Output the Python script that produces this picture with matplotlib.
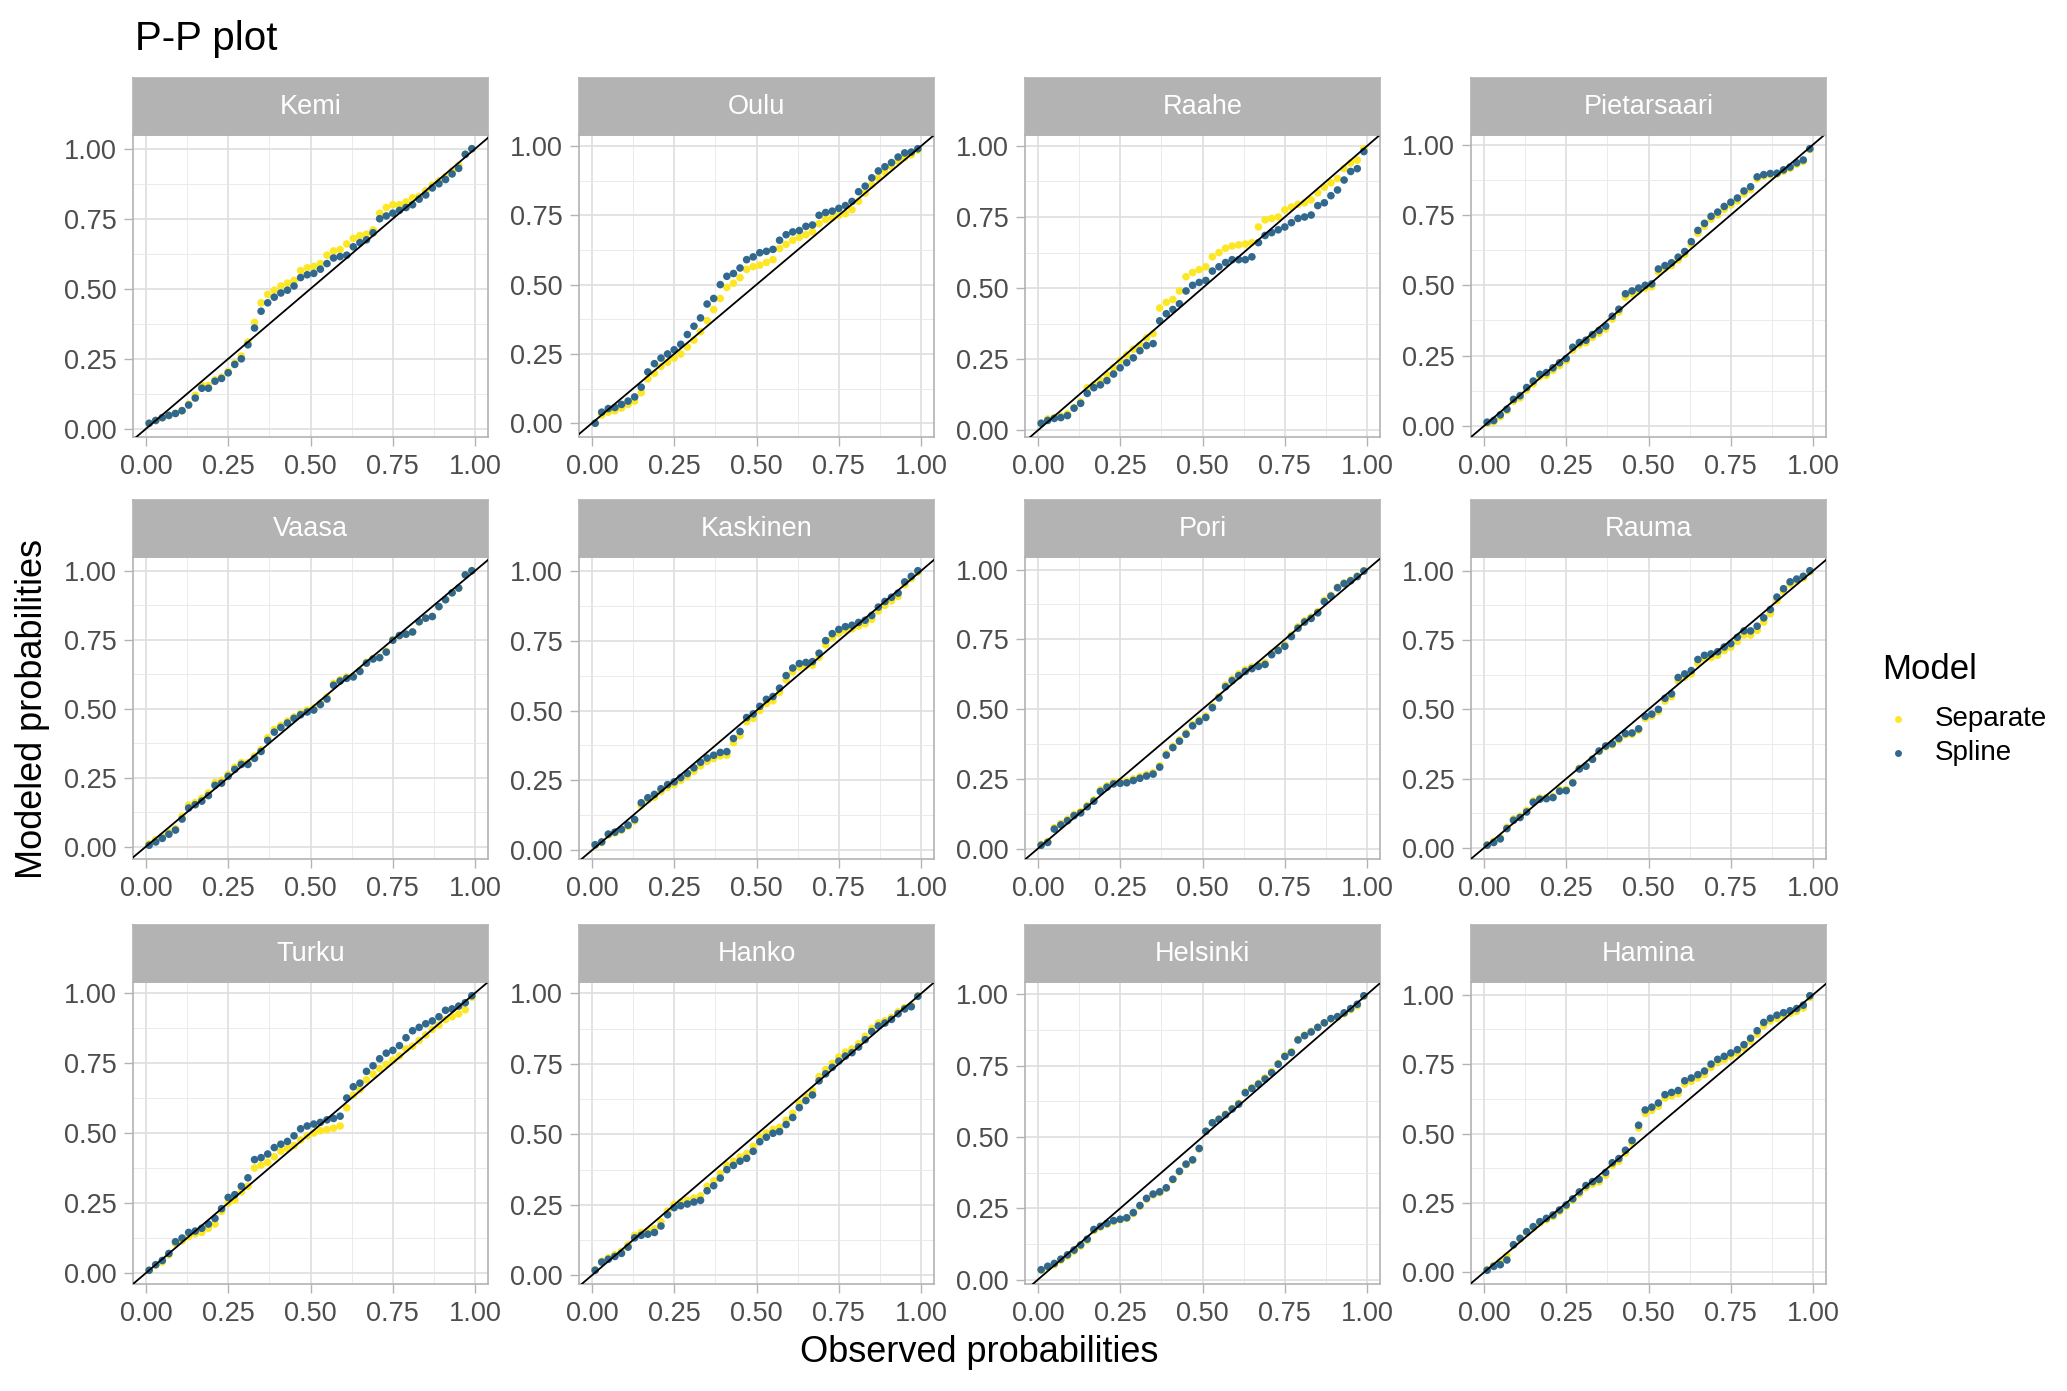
import matplotlib.pyplot as plt
from matplotlib.lines import Line2D
import numpy as np

plt.rcParams['font.family'] = ['Liberation Sans', 'DejaVu Sans']

stations = ['Kemi', 'Oulu', 'Raahe', 'Pietarsaari',
            'Vaasa', 'Kaskinen', 'Pori', 'Rauma',
            'Turku', 'Hanko', 'Helsinki', 'Hamina']

obs_prob = [0.01, 0.03, 0.05, 0.07, 0.09, 0.11, 0.13, 0.15, 0.17, 0.19,
            0.21, 0.23, 0.25, 0.27, 0.29, 0.31, 0.33, 0.35, 0.37, 0.39,
            0.41, 0.43, 0.45, 0.47, 0.49, 0.51, 0.53, 0.55, 0.57, 0.59,
            0.61, 0.63, 0.65, 0.67, 0.69, 0.71, 0.73, 0.75, 0.77, 0.79,
            0.81, 0.83, 0.85, 0.87, 0.89, 0.91, 0.93, 0.95, 0.97, 0.99]

# modeled probabilities, Separate / Spline
kemi_sep = [0.02, 0.03, 0.04, 0.048, 0.055, 0.065, 0.088, 0.12, 0.155, 0.155,
            0.175, 0.185, 0.205, 0.235, 0.26, 0.31, 0.38, 0.45, 0.48, 0.495,
            0.51, 0.52, 0.53, 0.565, 0.575, 0.58, 0.59, 0.62, 0.635, 0.64,
            0.66, 0.68, 0.69, 0.695, 0.71, 0.77, 0.79, 0.80, 0.80, 0.81,
            0.825, 0.83, 0.85, 0.87, 0.885, 0.90, 0.92, 0.94, 0.98, 1.0]
kemi_spl = [0.02, 0.03, 0.04, 0.048, 0.055, 0.065, 0.085, 0.11, 0.145, 0.145,
            0.17, 0.18, 0.2, 0.23, 0.25, 0.30, 0.36, 0.42, 0.45, 0.47,
            0.485, 0.495, 0.51, 0.54, 0.55, 0.555, 0.57, 0.59, 0.61, 0.615,
            0.62, 0.65, 0.665, 0.675, 0.70, 0.75, 0.76, 0.77, 0.78, 0.79,
            0.80, 0.82, 0.835, 0.86, 0.875, 0.89, 0.91, 0.93, 0.98, 1.0]

oulu_sep = [0.0, 0.03, 0.04, 0.045, 0.055, 0.068, 0.08, 0.11, 0.16, 0.18,
            0.205, 0.22, 0.235, 0.25, 0.275, 0.30, 0.33, 0.37, 0.41, 0.45,
            0.49, 0.505, 0.525, 0.555, 0.565, 0.57, 0.58, 0.59, 0.63, 0.645,
            0.66, 0.67, 0.68, 0.69, 0.72, 0.735, 0.74, 0.75, 0.756, 0.77,
            0.80, 0.83, 0.86, 0.885, 0.905, 0.925, 0.945, 0.958, 0.968, 0.985]
oulu_spl = [0.0, 0.04, 0.053, 0.057, 0.068, 0.08, 0.095, 0.13, 0.185, 0.215,
            0.235, 0.25, 0.265, 0.285, 0.32, 0.35, 0.38, 0.43, 0.45, 0.50,
            0.53, 0.54, 0.56, 0.59, 0.60, 0.615, 0.62, 0.627, 0.66, 0.68,
            0.69, 0.695, 0.71, 0.715, 0.75, 0.76, 0.765, 0.775, 0.785, 0.80,
            0.835, 0.855, 0.885, 0.91, 0.925, 0.94, 0.96, 0.975, 0.978, 0.99]

raahe_sep = [0.025, 0.04, 0.045, 0.05, 0.058, 0.08, 0.10, 0.15, 0.16, 0.175,
             0.195, 0.22, 0.245, 0.265, 0.285, 0.30, 0.325, 0.34, 0.43, 0.45,
             0.46, 0.49, 0.54, 0.555, 0.565, 0.575, 0.61, 0.625, 0.64, 0.648,
             0.652, 0.655, 0.66, 0.715, 0.74, 0.745, 0.75, 0.775, 0.785, 0.795,
             0.80, 0.81, 0.835, 0.855, 0.87, 0.885, 0.92, 0.94, 0.95, 0.99]
raahe_spl = [0.025, 0.035, 0.042, 0.045, 0.052, 0.078, 0.095, 0.13, 0.15, 0.16,
             0.175, 0.198, 0.22, 0.238, 0.255, 0.28, 0.298, 0.305, 0.385, 0.41,
             0.425, 0.445, 0.49, 0.51, 0.52, 0.527, 0.56, 0.575, 0.59, 0.60,
             0.60, 0.60, 0.61, 0.66, 0.685, 0.695, 0.705, 0.715, 0.73, 0.745,
             0.75, 0.757, 0.79, 0.80, 0.825, 0.845, 0.88, 0.91, 0.92, 0.98]

pietarsaari_sep = [0.01, 0.015, 0.033, 0.055, 0.088, 0.1, 0.128, 0.15, 0.175, 0.18,
                   0.198, 0.215, 0.232, 0.27, 0.288, 0.296, 0.315, 0.33, 0.345, 0.38,
                   0.405, 0.458, 0.47, 0.48, 0.49, 0.495, 0.548, 0.56, 0.57, 0.59,
                   0.61, 0.645, 0.685, 0.71, 0.735, 0.75, 0.77, 0.785, 0.80, 0.825,
                   0.84, 0.878, 0.888, 0.893, 0.895, 0.905, 0.915, 0.93, 0.94, 0.982]
pietarsaari_spl = [0.014, 0.02, 0.04, 0.06, 0.095, 0.108, 0.137, 0.16, 0.184, 0.19,
                   0.207, 0.225, 0.24, 0.28, 0.297, 0.305, 0.325, 0.34, 0.355, 0.39,
                   0.415, 0.47, 0.48, 0.49, 0.50, 0.505, 0.558, 0.57, 0.58, 0.60,
                   0.62, 0.655, 0.695, 0.72, 0.745, 0.76, 0.78, 0.795, 0.81, 0.835,
                   0.85, 0.885, 0.893, 0.897, 0.898, 0.91, 0.92, 0.935, 0.945, 0.985]

vaasa_sep = [0.01, 0.025, 0.038, 0.052, 0.065, 0.11, 0.15, 0.16, 0.175, 0.195,
             0.232, 0.24, 0.262, 0.288, 0.305, 0.305, 0.328, 0.352, 0.395, 0.425,
             0.44, 0.455, 0.47, 0.483, 0.495, 0.502, 0.52, 0.542, 0.592, 0.605,
             0.615, 0.618, 0.638, 0.668, 0.682, 0.686, 0.708, 0.75, 0.765, 0.77,
             0.778, 0.815, 0.828, 0.834, 0.87, 0.895, 0.92, 0.937, 0.985, 1.0]
vaasa_spl = [0.005, 0.017, 0.03, 0.045, 0.06, 0.10, 0.14, 0.152, 0.165, 0.185,
             0.222, 0.23, 0.255, 0.28, 0.298, 0.298, 0.32, 0.345, 0.385, 0.415,
             0.432, 0.448, 0.465, 0.478, 0.488, 0.495, 0.515, 0.535, 0.585, 0.60,
             0.61, 0.615, 0.635, 0.665, 0.68, 0.685, 0.705, 0.748, 0.765, 0.77,
             0.778, 0.815, 0.828, 0.834, 0.87, 0.895, 0.92, 0.937, 0.985, 1.0]

kaskinen_sep = [0.018, 0.028, 0.055, 0.062, 0.072, 0.086, 0.105, 0.16, 0.18, 0.19,
                0.21, 0.225, 0.235, 0.25, 0.265, 0.283, 0.302, 0.318, 0.328, 0.338,
                0.34, 0.385, 0.41, 0.46, 0.472, 0.5, 0.525, 0.535, 0.565, 0.61,
                0.638, 0.655, 0.66, 0.662, 0.69, 0.735, 0.76, 0.776, 0.786, 0.792,
                0.802, 0.81, 0.826, 0.856, 0.876, 0.892, 0.908, 0.95, 0.972, 0.995]
kaskinen_spl = [0.02, 0.03, 0.058, 0.065, 0.075, 0.09, 0.11, 0.17, 0.188, 0.2,
                0.22, 0.235, 0.245, 0.26, 0.275, 0.295, 0.315, 0.33, 0.34, 0.35,
                0.353, 0.40, 0.425, 0.475, 0.488, 0.515, 0.54, 0.55, 0.58, 0.625,
                0.652, 0.668, 0.672, 0.675, 0.705, 0.75, 0.775, 0.79, 0.80, 0.805,
                0.815, 0.823, 0.84, 0.87, 0.89, 0.905, 0.92, 0.96, 0.98, 1.0]

pori_sep = [0.015, 0.026, 0.075, 0.09, 0.105, 0.123, 0.133, 0.155, 0.175, 0.21,
            0.225, 0.237, 0.24, 0.242, 0.25, 0.258, 0.265, 0.272, 0.297, 0.34,
            0.367, 0.39, 0.415, 0.445, 0.461, 0.475, 0.51, 0.545, 0.586, 0.608,
            0.626, 0.641, 0.651, 0.659, 0.666, 0.7, 0.715, 0.73, 0.765, 0.795,
            0.817, 0.83, 0.85, 0.89, 0.908, 0.937, 0.952, 0.962, 0.977, 0.996]
pori_spl = [0.012, 0.022, 0.07, 0.085, 0.1, 0.118, 0.128, 0.15, 0.17, 0.205,
            0.22, 0.232, 0.234, 0.236, 0.244, 0.252, 0.26, 0.267, 0.292, 0.335,
            0.362, 0.385, 0.41, 0.44, 0.456, 0.47, 0.505, 0.54, 0.58, 0.602,
            0.62, 0.635, 0.645, 0.653, 0.66, 0.695, 0.71, 0.725, 0.76, 0.79,
            0.812, 0.825, 0.845, 0.885, 0.905, 0.935, 0.95, 0.96, 0.975, 0.995]

rauma_sep = [0.012, 0.024, 0.038, 0.075, 0.105, 0.115, 0.136, 0.17, 0.18, 0.182,
             0.186, 0.21, 0.212, 0.238, 0.288, 0.296, 0.32, 0.348, 0.365, 0.372,
             0.39, 0.408, 0.41, 0.425, 0.468, 0.476, 0.492, 0.53, 0.546, 0.603,
             0.616, 0.628, 0.667, 0.682, 0.687, 0.695, 0.712, 0.724, 0.745, 0.768,
             0.768, 0.785, 0.815, 0.845, 0.892, 0.925, 0.952, 0.962, 0.974, 0.996]
rauma_spl = [0.01, 0.02, 0.033, 0.07, 0.1, 0.11, 0.13, 0.165, 0.176, 0.178,
             0.182, 0.205, 0.207, 0.235, 0.285, 0.295, 0.32, 0.35, 0.368, 0.376,
             0.395, 0.413, 0.415, 0.43, 0.475, 0.483, 0.50, 0.54, 0.556, 0.615,
             0.628, 0.64, 0.68, 0.695, 0.70, 0.708, 0.725, 0.737, 0.76, 0.783,
             0.783, 0.80, 0.83, 0.86, 0.905, 0.935, 0.96, 0.97, 0.98, 1.0]

turku_sep = [0.01, 0.028, 0.04, 0.065, 0.105, 0.115, 0.13, 0.14, 0.145, 0.16,
             0.175, 0.22, 0.25, 0.26, 0.29, 0.31, 0.375, 0.385, 0.395, 0.415,
             0.435, 0.445, 0.455, 0.475, 0.49, 0.50, 0.508, 0.512, 0.517, 0.525,
             0.59, 0.635, 0.655, 0.69, 0.71, 0.73, 0.745, 0.76, 0.775, 0.80,
             0.81, 0.83, 0.85, 0.87, 0.885, 0.905, 0.915, 0.925, 0.94, 0.985]
turku_spl = [0.01, 0.03, 0.045, 0.07, 0.112, 0.125, 0.145, 0.15, 0.16, 0.175,
             0.195, 0.23, 0.27, 0.28, 0.31, 0.34, 0.405, 0.412, 0.425, 0.448,
             0.46, 0.47, 0.49, 0.515, 0.525, 0.532, 0.538, 0.547, 0.552, 0.56,
             0.625, 0.665, 0.678, 0.72, 0.74, 0.765, 0.785, 0.795, 0.812, 0.84,
             0.865, 0.877, 0.89, 0.90, 0.915, 0.938, 0.943, 0.953, 0.965, 0.99]

hanko_sep = [0.02, 0.05, 0.062, 0.073, 0.085, 0.108, 0.142, 0.152, 0.158, 0.165,
             0.19, 0.228, 0.252, 0.26, 0.266, 0.274, 0.282, 0.316, 0.335, 0.362,
             0.39, 0.405, 0.42, 0.432, 0.458, 0.49, 0.505, 0.518, 0.525, 0.55,
             0.575, 0.61, 0.635, 0.655, 0.705, 0.73, 0.752, 0.775, 0.792, 0.803,
             0.822, 0.848, 0.876, 0.895, 0.903, 0.915, 0.935, 0.95, 0.958, 0.992]
hanko_spl = [0.018, 0.047, 0.057, 0.067, 0.078, 0.1, 0.133, 0.142, 0.146, 0.152,
             0.175, 0.215, 0.24, 0.247, 0.253, 0.26, 0.266, 0.3, 0.318, 0.345,
             0.375, 0.39, 0.405, 0.415, 0.44, 0.474, 0.49, 0.504, 0.51, 0.535,
             0.56, 0.595, 0.62, 0.64, 0.69, 0.715, 0.738, 0.76, 0.778, 0.79,
             0.81, 0.836, 0.865, 0.885, 0.895, 0.908, 0.928, 0.945, 0.953, 0.99]

helsinki_sep = [0.033, 0.043, 0.052, 0.068, 0.083, 0.1, 0.118, 0.138, 0.172, 0.184,
                0.194, 0.204, 0.21, 0.215, 0.232, 0.257, 0.282, 0.297, 0.305, 0.32,
                0.35, 0.378, 0.403, 0.418, 0.458, 0.52, 0.55, 0.563, 0.58, 0.6,
                0.618, 0.658, 0.673, 0.688, 0.707, 0.729, 0.758, 0.785, 0.799, 0.842,
                0.857, 0.87, 0.885, 0.9, 0.914, 0.92, 0.932, 0.946, 0.96, 0.993]
helsinki_spl = [0.035, 0.047, 0.057, 0.072, 0.087, 0.104, 0.122, 0.142, 0.176, 0.187,
                0.197, 0.207, 0.212, 0.217, 0.235, 0.26, 0.285, 0.3, 0.308, 0.322,
                0.352, 0.38, 0.405, 0.42, 0.46, 0.52, 0.55, 0.562, 0.578, 0.598,
                0.615, 0.655, 0.67, 0.685, 0.703, 0.725, 0.755, 0.782, 0.796, 0.84,
                0.855, 0.868, 0.884, 0.9, 0.915, 0.922, 0.935, 0.95, 0.965, 0.995]

hamina_sep = [0.01, 0.025, 0.04, 0.06, 0.098, 0.12, 0.142, 0.16, 0.178, 0.19,
              0.202, 0.22, 0.238, 0.26, 0.283, 0.305, 0.318, 0.326, 0.35, 0.385,
              0.4, 0.43, 0.465, 0.52, 0.572, 0.583, 0.598, 0.628, 0.636, 0.643,
              0.678, 0.688, 0.7, 0.712, 0.738, 0.755, 0.766, 0.778, 0.79, 0.808,
              0.832, 0.858, 0.888, 0.905, 0.915, 0.924, 0.932, 0.94, 0.952, 0.99]
hamina_spl = [0.008, 0.022, 0.028, 0.045, 0.1, 0.123, 0.147, 0.165, 0.183, 0.195,
              0.207, 0.225, 0.243, 0.265, 0.29, 0.313, 0.327, 0.335, 0.36, 0.395,
              0.41, 0.44, 0.475, 0.53, 0.585, 0.595, 0.61, 0.64, 0.648, 0.655,
              0.69, 0.70, 0.712, 0.725, 0.75, 0.767, 0.778, 0.79, 0.802, 0.82,
              0.843, 0.87, 0.90, 0.915, 0.926, 0.935, 0.942, 0.95, 0.962, 0.996]

sep_vals = dict(zip(stations, [kemi_sep, oulu_sep, raahe_sep, pietarsaari_sep,
                               vaasa_sep, kaskinen_sep, pori_sep, rauma_sep,
                               turku_sep, hanko_sep, helsinki_sep, hamina_sep]))
spl_vals = dict(zip(stations, [kemi_spl, oulu_spl, raahe_spl, pietarsaari_spl,
                               vaasa_spl, kaskinen_spl, pori_spl, rauma_spl,
                               turku_spl, hanko_spl, helsinki_spl, hamina_spl]))

col_sep = '#FDE725'
col_spl = '#31688E'
grey70 = '#B3B3B3'

W, H = 2067, 1391
fig = plt.figure(figsize=(W / 100, H / 100), dpi=100)

# panel geometry in pixels
col_left = [133, 579, 1025, 1471]
row_bottom = [437, 859, 1284]
pw, ph, sh = 355, 302, 57

ticks = [0, 0.25, 0.5, 0.75, 1.0]
tick_lab = ['0.00', '0.25', '0.50', '0.75', '1.00']
minor = [0.125, 0.375, 0.625, 0.875]


def expand(lo, hi, f=0.05):
    d = hi - lo
    return lo - f * d, hi + f * d


for i, name in enumerate(stations):
    r, c = divmod(i, 4)
    left = col_left[c] / W
    bottom = 1 - row_bottom[r] / H
    ax = fig.add_axes([left, bottom, pw / W, ph / H])

    xs = np.array(obs_prob)
    ysep = np.array(sep_vals[name])
    yspl = np.array(spl_vals[name])

    ax.scatter(xs, ysep, s=30, color=col_sep, edgecolors='none', zorder=2)
    ax.scatter(xs, yspl, s=30, color=col_spl, edgecolors='none', zorder=3)
    ax.axline((0, 0), (1, 1), color='black', lw=1.3, zorder=4)

    ax.set_xlim(*expand(xs.min(), xs.max()))
    ally = np.concatenate([ysep, yspl])
    ax.set_ylim(*expand(ally.min(), ally.max()))

    ax.set_xticks(ticks)
    ax.set_xticklabels(tick_lab)
    ax.set_yticks(ticks)
    ax.set_yticklabels(tick_lab)
    ax.set_xticks(minor, minor=True)
    ax.set_yticks(minor, minor=True)
    ax.grid(which='major', color='#DEDEDE', lw=1.2)
    ax.grid(which='minor', color='#E8E8E8', lw=0.6)
    ax.set_axisbelow(True)
    ax.tick_params(which='major', length=6.5, width=1.0, color=grey70,
                   labelsize=19.5, labelcolor='#4D4D4D')
    ax.tick_params(axis='x', pad=5.5)
    ax.tick_params(axis='y', pad=5)
    ax.tick_params(which='minor', length=0)
    for sp in ax.spines.values():
        sp.set_color(grey70)
        sp.set_linewidth(1.2)

    sax = fig.add_axes([left, bottom + ph / H, pw / W, sh / H])
    sax.set_facecolor(grey70)
    sax.set_xticks([])
    sax.set_yticks([])
    for sp in sax.spines.values():
        sp.set_color(grey70)
        sp.set_linewidth(1.2)
    sax.text(0.5, 0.5, name, ha='center', va='center', color='white',
             fontsize=19.5, transform=sax.transAxes)

fig.text(135 / W, 1 - 50 / H, 'P-P plot', fontsize=29, va='baseline')
fig.text(979 / W, 1 - 1353 / H, 'Observed probabilities', fontsize=26,
         ha='center', va='center')
fig.text(33 / W, 1 - 709 / H, 'Modeled probabilities', fontsize=26,
         ha='center', va='center', rotation=90)

# legend
fig.text(1882 / W, 1 - 679 / H, 'Model', fontsize=25, va='baseline')
for lab, col, y in [('Separate', col_sep, 719), ('Spline', col_spl, 753)]:
    fig.add_artist(Line2D([1898 / W], [1 - y / H], marker='o', ms=5,
                          color=col, mec='none', transform=fig.transFigure))
    fig.text(1935 / W, 1 - y / H, lab, fontsize=20, va='center')

fig.savefig('out.png', dpi=100)
